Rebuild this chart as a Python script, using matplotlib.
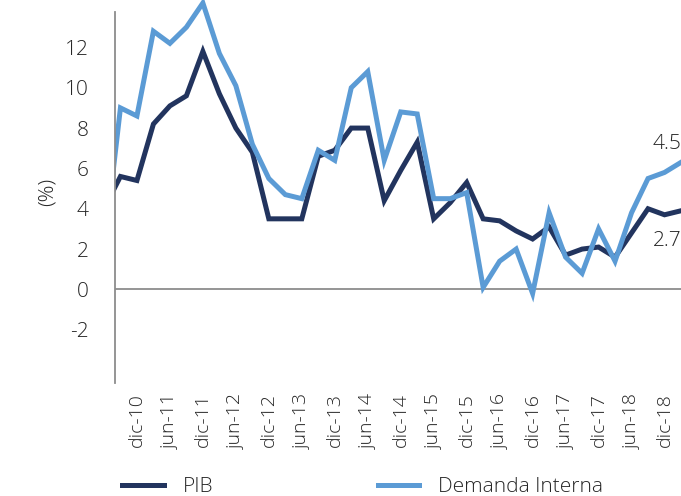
import numpy as np
import matplotlib
matplotlib.use("Agg")
import matplotlib.pyplot as plt

# quarterly, jun-10 (partly hidden behind the axis) to mar-19
quarters = ["jun-10", "sep-10", "dic-10", "mar-11", "jun-11", "sep-11", "dic-11", "mar-12",
            "jun-12", "sep-12", "dic-12", "mar-13", "jun-13", "sep-13", "dic-13", "mar-14",
            "jun-14", "sep-14", "dic-14", "mar-15", "jun-15", "sep-15", "dic-15", "mar-16",
            "jun-16", "sep-16", "dic-16", "mar-17", "jun-17", "sep-17", "dic-17", "mar-18",
            "jun-18", "sep-18", "dic-18", "mar-19"]
pib = [4.0, 5.6, 5.4, 8.2, 9.1, 9.6, 11.8, 9.7, 8.0, 6.8, 3.5, 3.5,
       3.5, 6.6, 6.9, 8.0, 8.0, 4.4, 5.9, 7.3, 3.5, 4.3, 5.3, 3.5,
       3.4, 2.9, 2.5, 3.1, 1.7, 2.0, 2.1, 1.6, 2.8, 4.0, 3.7, 3.9]
demanda = [1.9, 9.0, 8.6, 12.8, 12.2, 13.0, 14.2, 11.7, 10.1, 7.2, 5.5, 4.7,
           4.5, 6.9, 6.4, 10.0, 10.8, 6.4, 8.8, 8.7, 4.5, 4.5, 4.8, 0.1,
           1.4, 2.0, -0.2, 3.8, 1.6, 0.8, 3.0, 1.4, 3.8, 5.5, 5.8, 6.3]
tick_labels = ["dic-10", "jun-11", "dic-11", "jun-12", "dic-12", "jun-13", "dic-13",
               "jun-14", "dic-14", "jun-15", "dic-15", "jun-16", "dic-16", "jun-17",
               "dic-17", "jun-18", "dic-18"]
end_labels = ["4.5", "2.7"]

dark = "#22345e"
light = "#5b9bd5"
grey = "#8c8c8c"
txt = "#262626"
plt.rcParams["font.family"] = ["Open Sans", "DejaVu Sans"]
plt.rcParams["font.weight"] = 300
plt.rcParams["axes.labelweight"] = 300

W, H = 681, 496
fig = plt.figure(figsize=(W / 100, H / 100), dpi=100)
ax = fig.add_axes([115 / W, (H - 383) / H, (W - 115) / W, 383 / H])

x = np.arange(len(quarters)) - 1
ax.plot(x, pib, color=dark, lw=3.6, solid_joinstyle="miter", label="PIB")
ax.plot(x, demanda, color=light, lw=3.6, solid_joinstyle="miter", label="Demanda Interna")

ax.set_xlim(-0.33, 34.0)
ax.set_ylim(-4.64, 14.35)
ax.axhline(0, color=grey, lw=1.3, zorder=0)

for s in ["top", "right", "bottom"]:
    ax.spines[s].set_visible(False)
ax.spines["left"].set_color(grey)
ax.spines["left"].set_linewidth(1.3)
ax.spines["left"].set_bounds(-4.64, 13.76)

ax.set_yticks(np.arange(-2, 13, 2))
ax.set_yticklabels([str(v) for v in range(-2, 13, 2)])
tick_pos = [quarters.index(t) - 1 for t in tick_labels]
ax.set_xticks(tick_pos)
ax.set_xticklabels(tick_labels, rotation=90)
ax.tick_params(axis="y", length=0, pad=19, labelsize=15, labelcolor=txt)
ax.tick_params(axis="x", length=0, pad=7, labelsize=14, labelcolor=txt)
ax.set_ylabel("(%)", fontsize=15, color=txt, labelpad=5, fontweight=300)

ax.text(34.0, 7.2, end_labels[0], ha="right", va="center", fontsize=15, color=txt)
ax.text(34.0, 2.4, end_labels[1], ha="right", va="center", fontsize=15, color=txt)

fig.legend(loc="center left", bbox_to_anchor=(122 / W, 9 / H), ncol=2, frameon=False,
           fontsize=15, handlelength=2.0, handletextpad=0.9, columnspacing=7.9,
           borderpad=0, borderaxespad=0, labelcolor=txt)

fig.savefig("out.png", dpi=100)
